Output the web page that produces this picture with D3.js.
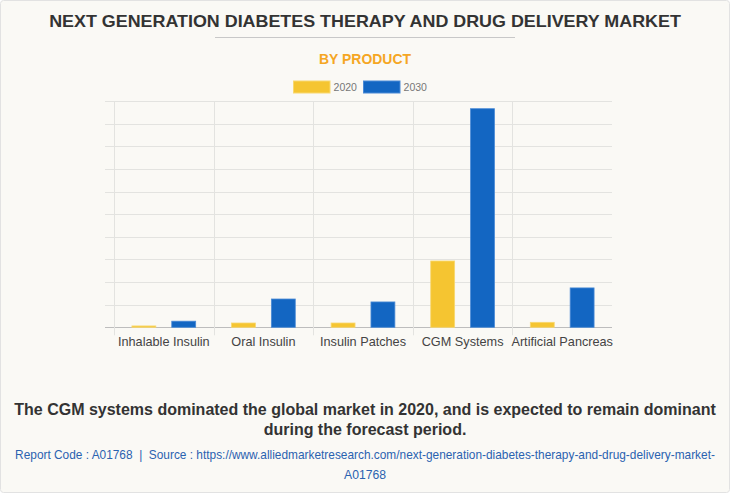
<!DOCTYPE html>
<html>
<head>
<meta charset="utf-8">
<script src="https://cdn.jsdelivr.net/npm/d3@7/dist/d3.min.js"></script>
<style>
  html, body { margin: 0; padding: 0; background: #ffffff; }
  svg { display: block; }
</style>
</head>
<body>
<svg id="chart" width="730" height="493"></svg>
<script>
// ---- data ----
const categories = ["Inhalable Insulin", "Oral Insulin", "Insulin Patches", "CGM Systems", "Artificial Pancreas"];
const seriesNames = ["2020", "2030"];
const values2020 = [60, 190, 190, 2930, 220];
const values2030 = [270, 1250, 1120, 9660, 1740];
const yTicks = [0, 1000, 2000, 3000, 4000, 5000, 6000, 7000, 8000, 9000, 10000];

const title = "NEXT GENERATION DIABETES THERAPY AND DRUG DELIVERY MARKET";
const subtitle = "BY PRODUCT";
const noteLines = ["The CGM systems dominated the global market in 2020, and is expected to remain dominant",
                   "during the forecast period."];
const sourceLines = ["Report Code : A01768  |  Source : https://www.alliedmarketresearch.com/next-generation-diabetes-therapy-and-drug-delivery-market-",
                     "A01768"];

const colors = ["#F5C531", "#1366C2"];
const strokes = ["#F8D870", "#4A8AD6"];

const svg = d3.select("#chart");
const W = 730, H = 493;

// horizontally condensed text helper (fits a target width using a scale transform)
function condensedText(parent, str, cx, baseY, targetW, attrs) {
  const t = parent.append("text").attr("text-anchor", "middle").attr("xml:space", "preserve");
  Object.entries(attrs).forEach(([k, v]) => t.attr(k, v));
  t.text(str);
  const natural = t.node().getComputedTextLength();
  const sx = natural > 0 ? targetW / natural : 1;
  t.attr("transform", `translate(${cx},${baseY}) scale(${sx},1)`);
  return t;
}

// background + border
svg.append("rect").attr("x", 0.5).attr("y", 0.5).attr("width", W - 1).attr("height", H - 1)
  .attr("rx", 3).attr("fill", "#FAF9F5").attr("stroke", "#E2E2E2");

// title
condensedText(svg, title, 365, 27, 632, {
  "font-family": "Arial, 'Liberation Sans', sans-serif", "font-weight": "bold",
  "font-size": 16.5, "fill": "#333333" });
svg.append("line").attr("x1", 215).attr("x2", 515).attr("y1", 37.5).attr("y2", 37.5)
  .attr("stroke", "#C8C8C8").attr("stroke-width", 1);

condensedText(svg, subtitle, 365, 64, 92, {
  "font-family": "Arial, 'Liberation Sans', sans-serif", "font-weight": "bold",
  "font-size": 14, "fill": "#F5A623" });

// legend
const legendX = [293.5, 363.5];
seriesNames.forEach((s, i) => {
  svg.append("rect").attr("x", legendX[i]).attr("y", 81).attr("width", 36.5).attr("height", 12)
    .attr("fill", colors[i]).attr("stroke", strokes[i]).attr("stroke-width", 1);
  condensedText(svg, s, legendX[i] + 40 + 11.75, 91, 23.5, {
    "font-family": "Arial, 'Liberation Sans', sans-serif", "font-size": 11.5, "fill": "#777777" });
});

// scales
const plot = { left: 114, right: 612, top: 101, bottom: 327.3 };
const x = d3.scaleBand().domain(categories).range([plot.left, plot.right]).paddingInner(0).paddingOuter(0);
const y = d3.scaleLinear().domain([0, 10000]).range([plot.bottom, plot.top]);

const g = svg.append("g");

// horizontal gridlines
g.selectAll("line.h").data(yTicks).enter().append("line")
  .attr("x1", plot.left - 9).attr("x2", plot.right)
  .attr("y1", d => Math.round(y(d)) + 0.5).attr("y2", d => Math.round(y(d)) + 0.5)
  .attr("stroke", d => d === 0 ? "#BDBDBD" : "#E3E3E0").attr("stroke-width", 1);

// vertical gridlines at category boundaries
g.selectAll("line.v").data(categories).enter().append("line")
  .attr("x1", d => Math.round(x(d)) + 0.5).attr("x2", d => Math.round(x(d)) + 0.5)
  .attr("y1", plot.top).attr("y2", plot.bottom + 8)
  .attr("stroke", "#E3E3E0").attr("stroke-width", 1);

// bars
const groupInner = x.bandwidth() * 0.8;
const barSlot = groupInner / 2;
const barW = barSlot * 0.6;
const allSeries = [values2020, values2030];
allSeries.forEach((vals, si) => {
  g.selectAll("rect.s" + si).data(categories).enter().append("rect")
    .attr("x", (d) => x(d) + x.bandwidth() * 0.1 + barSlot * si + (barSlot - barW) / 2)
    .attr("width", barW)
    .attr("y", (d, i) => y(vals[i]))
    .attr("height", (d, i) => y(0) - y(vals[i]))
    .attr("fill", colors[si])
    .attr("stroke", strokes[si]).attr("stroke-width", 0.8);
});

// x labels
g.selectAll("text.xl").data(categories).enter().append("text")
  .attr("x", d => x(d) + x.bandwidth() / 2).attr("y", 346)
  .attr("text-anchor", "middle")
  .attr("font-family", "Arial, 'Liberation Sans', sans-serif")
  .attr("font-size", 12.7).attr("fill", "#444444").text(d => d);

// note
noteLines.forEach((t, i) => {
  svg.append("text").attr("x", 365).attr("y", 415 + i * 20).attr("text-anchor", "middle")
    .attr("font-family", "Arial, 'Liberation Sans', sans-serif")
    .attr("font-weight", "bold").attr("font-size", 16).attr("fill", "#333333").text(t);
});

// source
condensedText(svg, sourceLines[0], 365, 459, 700, {
  "font-family": "Arial, 'Liberation Sans', sans-serif", "font-size": 12.5, "fill": "#2A62B0" });
condensedText(svg, sourceLines[1], 365, 479, 42, {
  "font-family": "Arial, 'Liberation Sans', sans-serif", "font-size": 12.5, "fill": "#2A62B0" });
</script>
</body>
</html>
